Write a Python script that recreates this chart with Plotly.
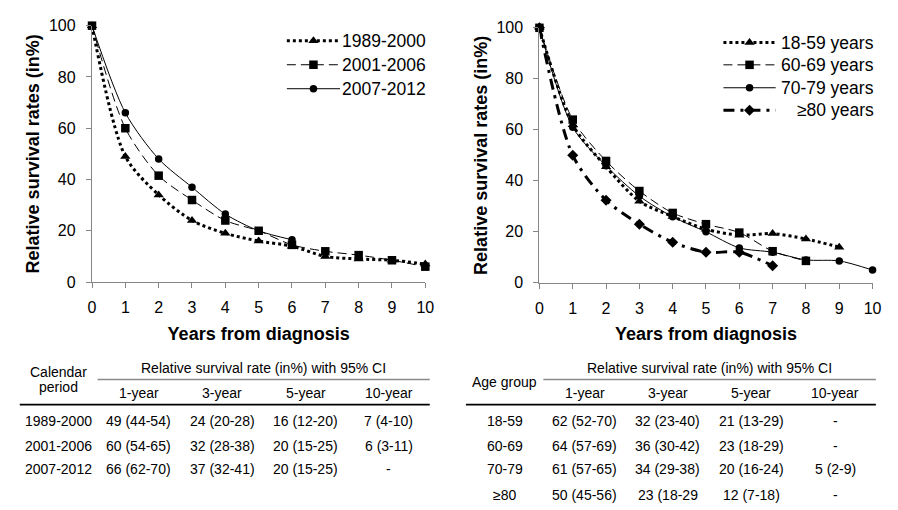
import plotly.graph_objects as go

W, H = 898, 510
FONT = "Liberation Sans, Arial, sans-serif"

# ---------------- data ----------------
years = list(range(11))
y_ticks = [0, 20, 40, 60, 80, 100]

period_names = ["1989-2000", "2001-2006", "2007-2012"]
rs_1989_2000 = [100, 49, 34, 24, 19, 16, 14, 10, 9, 8.5, 7]
rs_2001_2006 = [100, 60, 41.5, 32, 24, 20, 14.5, 12, 10.5, 8.5, 6]
rs_2007_2012 = [100, 66, 48, 37, 26.5, 20, 16.5]

age_names = ["18-59 years", "60-69 years", "70-79 years", "≥80 years"]
rs_18_59 = [100, 62, 45.5, 32, 26, 21, 18.7, 19.3, 17.2, 14]
rs_60_69 = [100, 64, 47.8, 36, 27.4, 23, 19.7, 12.4, 8.6]
rs_70_79 = [100, 61, 45.9, 34, 25.9, 20, 13.7, 12, 9, 8.6, 5]
rs_80_plus = [100, 50, 32.4, 23, 15.9, 12, 12, 6.7]

table_header = "Relative survival rate (in%) with 95% CI"
table_cols = ["1-year", "3-year", "5-year", "10-year"]

period_rows = ["1989-2000", "2001-2006", "2007-2012"]
period_cells = [
    ["49 (44-54)", "24 (20-28)", "16 (12-20)", "7 (4-10)"],
    ["60 (54-65)", "32 (28-38)", "20 (15-25)", "6 (3-11)"],
    ["66 (62-70)", "37 (32-41)", "20 (15-25)", "-"],
]

age_rows = ["18-59", "60-69", "70-79", "≥80"]
age_cells = [
    ["62 (52-70)", "32 (23-40)", "21 (13-29)", "-"],
    ["64 (57-69)", "36 (30-42)", "23 (18-29)", "-"],
    ["61 (57-65)", "34 (29-38)", "20 (16-24)", "5 (2-9)"],
    ["50 (45-56)", "23 (18-29", "12 (7-18)", "-"],
]

# ---------------- styles ----------------
STYLE = {
    "dot":     dict(line=dict(color="black", width=3, dash="3px,3px"), symbol="triangle-up", size=9),
    "dash":    dict(line=dict(color="black", width=1, dash="9px,5px"), symbol="square", size=8.5),
    "solid":   dict(line=dict(color="black", width=1), symbol="circle", size=7.5),
    "dashdot": dict(line=dict(color="black", width=3, dash="11px,6px,3px,6px"), symbol="diamond", size=8.5),
}


def px(x):
    return x / W


def py(y):
    return 1 - y / H


fig = go.Figure()


def add_series(name, values, style, xaxis, yaxis):
    s = STYLE[style]
    fig.add_trace(go.Scatter(
        x=years[:len(values)], y=values, name=name, showlegend=False,
        mode="lines+markers", line=dict(**s["line"], shape="spline", smoothing=0.8),
        marker=dict(symbol=s["symbol"], size=s["size"], color="black", line=dict(width=0)),
        xaxis=xaxis, yaxis=yaxis, cliponaxis=False,
    ))


add_series(period_names[0], rs_1989_2000, "dot", "x", "y")
add_series(period_names[1], rs_2001_2006, "dash", "x", "y")
add_series(period_names[2], rs_2007_2012, "solid", "x", "y")

add_series(age_names[0], rs_18_59, "dot", "x2", "y2")
add_series(age_names[1], rs_60_69, "dash", "x2", "y2")
add_series(age_names[2], rs_70_79, "solid", "x2", "y2")
add_series(age_names[3], rs_80_plus, "dashdot", "x2", "y2")


# ---------------- legends (drawn on a pixel-space overlay axis) ----------------
def add_legend(names, styles, x0, x1, text_right, row_ys):
    for name, style, ry in zip(names, styles, row_ys):
        s = STYLE[style]
        fig.add_trace(go.Scatter(
            x=[x0, x1], y=[ry, ry], mode="lines", line=s["line"],
            xaxis="x3", yaxis="y3", showlegend=False, hoverinfo="skip",
        ))
        fig.add_trace(go.Scatter(
            x=[(x0 + x1) / 2], y=[ry], mode="markers",
            marker=dict(symbol=s["symbol"], size=s["size"], color="black", line=dict(width=0)),
            xaxis="x3", yaxis="y3", showlegend=False, hoverinfo="skip",
        ))
        fig.add_annotation(x=text_right, y=ry, xref="x3", yref="y3", text=name,
                           showarrow=False, xanchor="right", yanchor="middle", borderpad=0,
                           font=dict(family=FONT, size=17.5, color="black"))


add_legend(period_names, ["dot", "dash", "solid"], 287, 341, 429, [34, 58.7, 83.5])
add_legend(age_names, ["dot", "dash", "solid", "dashdot"], 730, 783, 884, [35.8, 58.8, 82.5, 105.8])

AXIS_COLOR = "#868686"
common_x = dict(
    range=[0, 10], tickvals=years, showgrid=False, zeroline=False,
    showline=True, linecolor=AXIS_COLOR, linewidth=1.3,
    ticks="outside", ticklen=5, tickcolor=AXIS_COLOR, tickwidth=1.3,
    tickfont=dict(family=FONT, size=16, color="black"), ticklabelstandoff=6,
    title=dict(text="<b>Years from diagnosis</b>", font=dict(family=FONT, size=18, color="black"), standoff=11),
)
common_y = dict(
    range=[0, 100], tickvals=y_ticks, showgrid=False, zeroline=False,
    showline=True, linecolor=AXIS_COLOR, linewidth=1.3,
    ticks="outside", ticklen=5, tickcolor=AXIS_COLOR, tickwidth=1.3,
    tickfont=dict(family=FONT, size=16, color="black"), ticklabelstandoff=7,
    title=dict(text="<b>Relative survival rates (in%)</b>", font=dict(family=FONT, size=18, color="black"), standoff=4),
)

fig.update_layout(
    width=W, height=H, margin=dict(l=0, r=0, t=0, b=0),
    paper_bgcolor="white", plot_bgcolor="rgba(0,0,0,0)",
    xaxis=dict(domain=[px(89.3), px(427.5)], anchor="y", **common_x),
    yaxis=dict(domain=[py(283.5), py(18.3)], anchor="x", **common_y),
    xaxis2=dict(domain=[px(543.3), px(881.3)], anchor="y2", **common_x),
    yaxis2=dict(domain=[py(284.3), py(20.5)], anchor="x2", **common_y),
    xaxis3=dict(domain=[0, 1], range=[0, W], visible=False, fixedrange=True, anchor="y3"),
    yaxis3=dict(domain=[0, 1], range=[H, 0], visible=False, fixedrange=True, anchor="x3"),
    showlegend=False,
)

# ---------------- tables ----------------
TXT = dict(family=FONT, size=14, color="black")


def text(x, y, s):
    fig.add_annotation(x=px(x), y=py(y), xref="paper", yref="paper", text=s,
                       showarrow=False, font=TXT, xanchor="center", yanchor="middle")


def hline(x0, x1, y, color, width):
    fig.add_shape(type="line", xref="paper", yref="paper",
                  x0=px(x0), x1=px(x1), y0=py(y), y1=py(y),
                  line=dict(color=color, width=width))


def add_table(label_lines, label_x, label_ys, col_xs, header_x, sub_x0, rule_x0, x_end, rows, cells, row_ys):
    for s, ly in zip(label_lines, label_ys):
        text(label_x, ly, s)
    text(header_x, 372.7, table_header)
    hline(sub_x0, x_end, 384.3, "#8a8a8a", 1.5)
    for c, cx in zip(table_cols, col_xs):
        text(cx, 398.3, c)
    hline(rule_x0, x_end, 410.3, "black", 1.6)
    for r, row_cells, ry in zip(rows, cells, row_ys):
        text(label_x, ry, r)
        for v, cx in zip(row_cells, col_xs):
            text(cx, ry, v)


add_table(["Calendar", "period"], 55.5, [377, 392], [136.5, 221.5, 306.3, 390.5], 263, 95, 16, 432,
          period_rows, period_cells, [427.3, 452.7, 476.7])
add_table(["Age group"], 508, [386.7], [589.5, 673.5, 758, 843.3], 715.5, 547.3, 468.7, 884.7,
          age_rows, age_cells, [427.3, 452.7, 476.7, 503.3])

fig.write_html("out.html")
